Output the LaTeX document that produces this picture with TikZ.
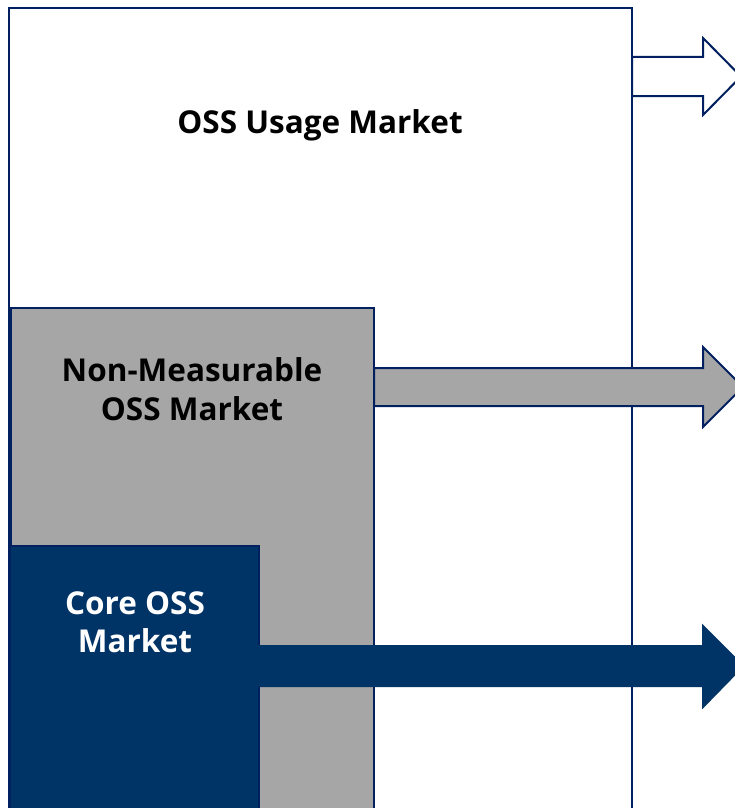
\documentclass[tikz,border=0pt]{standalone}
\usepackage{fontspec}
\setmainfont{Open Sans}
\definecolor{oNavy}{RGB}{0,51,102}
\definecolor{oEdge}{RGB}{0,32,96}
\definecolor{oGray}{RGB}{166,166,166}
\begin{document}
\begin{tikzpicture}[x=1pt,y=-1pt,
  box/.style={draw=oEdge,line width=2pt},
  bigarrow/.style={draw=oEdge,line width=2pt,line join=miter},
  lbl/.style={font=\bfseries\fontsize{31.5}{38.5}\selectfont,align=center,inner sep=0pt}]
\useasboundingbox (0,0) rectangle (735,808);
\clip (0,0) rectangle (735,808);
\fill[white] (0,0) rectangle (735,808);
% boxes
\draw[box,fill=white] (9,8) rectangle (632,840);
\coordinate (usageE) at (632,76.5);
\draw[box,fill=oGray] (11,308) rectangle (374,840);
\coordinate (nonE) at (374,387);
\draw[box,fill=oNavy] (10,546) rectangle (259,840);
\coordinate (coreE) at (259,666);
% arrows
\draw[bigarrow,fill=white] ([yshift=19.5pt]usageE) -- (703,57) -- (703,38) -- (741,76.5) -- (703,115) -- (703,96) -- ([yshift=-19.5pt]usageE) -- cycle;
\draw[bigarrow,fill=oGray] ([yshift=19pt]nonE) -- (703,368) -- (703,347) -- (743,387) -- (703,427) -- (703,406) -- ([yshift=-19pt]nonE) -- cycle;
\draw[bigarrow,draw=oNavy,fill=oNavy] ([yshift=20pt]coreE) -- (703,646) -- (703,626) -- (743,666) -- (703,707) -- (703,686) -- ([yshift=-20pt]coreE) -- cycle;
% labels
\node[lbl,anchor=base] (usage) at (320,133) {OSS Usage Market};
\node[lbl] (non) at (192,389) {Non-Measurable\\OSS Market};
\node[lbl,text=white] (core) at (135,622) {Core OSS\\Market};
\end{tikzpicture}
\end{document}
